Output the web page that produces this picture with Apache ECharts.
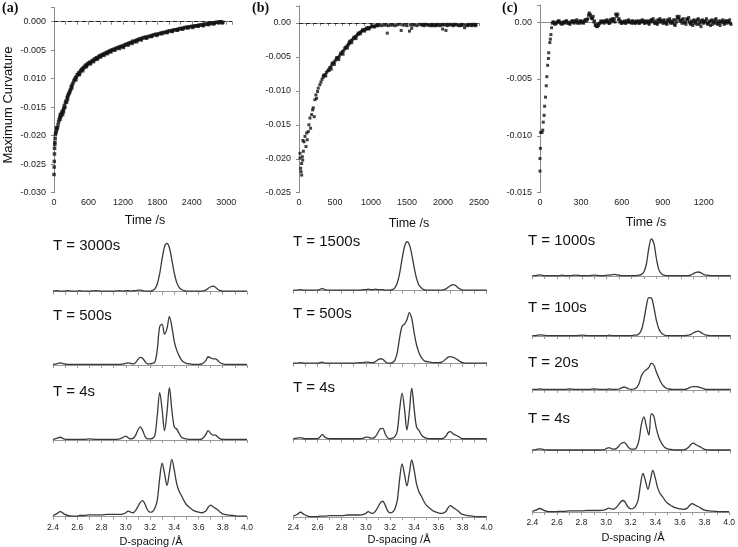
<!DOCTYPE html>
<html><head><meta charset="utf-8">
<script src="https://cdn.jsdelivr.net/npm/echarts@6/dist/echarts.min.js"></script>
<style>html,body{margin:0;padding:0;background:#fff}#c{width:738px;height:547px}</style>
</head><body><div id="c"></div><script>
// ---------------- DATA ----------------
// (a) maximum curvature vs time
const curvatureA = [[0,-0.0268],[3,-0.0255],[5,-0.0245],[8,-0.0232],[10,-0.0222],[13,-0.0215],[15,-0.0212],[20,-0.0205],[25,-0.0198],[30,-0.0195],[40,-0.0192],[50,-0.0188],[60,-0.0186],[70,-0.0181],[80,-0.0176],[90,-0.0172],[100,-0.0168],[110,-0.0163],[120,-0.0166],[130,-0.0161],[140,-0.0158],[150,-0.0163],[160,-0.0155],[170,-0.0152],[180,-0.0147],[190,-0.0150],[200,-0.0142],[210,-0.0139],[220,-0.0141],[230,-0.0133],[240,-0.0131],[250,-0.0128],[260,-0.0126],[270,-0.0124],[280,-0.0121],[290,-0.0119],[300,-0.0114],[315,-0.0111],[330,-0.0108],[345,-0.0104],[360,-0.0101],[375,-0.0098],[390,-0.0097],[405,-0.0093],[420,-0.0092],[435,-0.0089],[450,-0.0090],[465,-0.0086],[480,-0.0084],[495,-0.0083],[510,-0.0081],[525,-0.0080],[540,-0.0078],[555,-0.0076],[570,-0.0077],[585,-0.0074],[600,-0.0073],[620,-0.0071],[640,-0.0072],[660,-0.0069],[680,-0.0068],[700,-0.0066],[720,-0.0065],[740,-0.0063],[760,-0.0064],[780,-0.0061],[800,-0.0060],[820,-0.0059],[840,-0.0058],[860,-0.0057],[880,-0.0056],[900,-0.0055],[920,-0.0054],[940,-0.0053],[960,-0.0052],[980,-0.0051],[1000,-0.0050],[1025,-0.0049],[1050,-0.0048],[1075,-0.0047],[1100,-0.0046],[1125,-0.0045],[1150,-0.0044],[1175,-0.0043],[1200,-0.0043],[1225,-0.0041],[1250,-0.0040],[1275,-0.0039],[1300,-0.0038],[1325,-0.0037],[1350,-0.0036],[1375,-0.0034],[1400,-0.0035],[1425,-0.0033],[1450,-0.0032],[1475,-0.0031],[1500,-0.0030],[1530,-0.0029],[1560,-0.0028],[1590,-0.0027],[1620,-0.0027],[1650,-0.0026],[1680,-0.0025],[1710,-0.0024],[1740,-0.0023],[1770,-0.0022],[1800,-0.0022],[1830,-0.0021],[1860,-0.0020],[1890,-0.0019],[1920,-0.0019],[1950,-0.0018],[1980,-0.0017],[2010,-0.0016],[2040,-0.0016],[2070,-0.0015],[2100,-0.0014],[2130,-0.0014],[2160,-0.0013],[2190,-0.0012],[2220,-0.0012],[2250,-0.0011],[2280,-0.0010],[2310,-0.0010],[2340,-0.0009],[2370,-0.0009],[2400,-0.0008],[2430,-0.0008],[2460,-0.0007],[2490,-0.0007],[2520,-0.0006],[2550,-0.0006],[2580,-0.0005],[2610,-0.0005],[2640,-0.0004],[2670,-0.0004],[2700,-0.0003],[2730,-0.0003],[2760,-0.0002],[2790,-0.0002],[2820,-0.0001],[2850,-0.0001],[2880,0.0000],[2910,0.0000],[2940,-0.0001],
[45,-0.0186],[105,-0.0171],[165,-0.0158],[235,-0.0136],[310,-0.0116],[380,-0.0102],[440,-0.0093],[500,-0.0086],[560,-0.0079],[630,-0.0074],[690,-0.0070],[750,-0.0066],[810,-0.0062],[870,-0.0059],[930,-0.0056],[990,-0.0053],[1060,-0.0050],[1140,-0.0047],[1210,-0.0045],[1290,-0.0041],[1360,-0.0038],[1440,-0.0035],[1520,-0.0032],[1610,-0.0029],[1700,-0.0026],[1790,-0.0024],[1880,-0.0021],[1970,-0.0019],[2060,-0.0017],[2150,-0.0015],[2240,-0.0013],[2330,-0.0011],[2420,-0.0010],[2510,-0.0008],[2600,-0.0007],[2690,-0.0005],[2780,-0.0004],[2870,-0.0002],[2930,-0.0002]];
// (b)
const curvatureB = [[14,-0.0192],[14,-0.0199],[23,-0.0214],[28,-0.0219],[37,-0.0224],[37,-0.0207],[46,-0.0197],[51,-0.0202],[60,-0.0189],[55,-0.0173],[69,-0.0175],[83,-0.0167],[97,-0.0182],[106,-0.0162],[115,-0.0172],[129,-0.0160],[138,-0.0150],[152,-0.0140],[161,-0.0155],[175,-0.0135],[189,-0.0128],[198,-0.0125],[212,-0.0138],[221,-0.0113],[235,-0.0106],[244,-0.0111],[258,-0.0101],[267,-0.0096],[290,-0.0091],[305,-0.0087],
[320,-0.0083],[335,-0.0080],[350,-0.0078],[365,-0.0076],[380,-0.0073],[395,-0.0071],[410,-0.0069],[425,-0.0066],[440,-0.0065],[455,-0.0062],[470,-0.0060],[485,-0.0058],[500,-0.0056],[515,-0.0054],[530,-0.0052],[545,-0.0051],[560,-0.0049],[575,-0.0046],[590,-0.0045],[605,-0.0042],[620,-0.0041],[635,-0.0038],[650,-0.0037],[665,-0.0034],[680,-0.0033],[695,-0.0030],[710,-0.0029],[725,-0.0026],[740,-0.0025],[755,-0.0023],[770,-0.0022],[785,-0.0020],[800,-0.0019],[815,-0.0017],[830,-0.0016],[845,-0.0014],[860,-0.0013],[875,-0.0012],[890,-0.0011],[905,-0.0010],[920,-0.0009],[935,-0.0009],[950,-0.0008],[965,-0.0007],[980,-0.0007],[1000,-0.0006],[1020,-0.0005],[1040,-0.0005],[1060,-0.0004],[1080,-0.0004],[1100,-0.0004],
[340,-0.0077],[372,-0.0078],[418,-0.0070],[448,-0.0068],[462,-0.0059],[492,-0.0061],[522,-0.0051],[552,-0.0054],[582,-0.0044],[612,-0.0046],[642,-0.0036],[672,-0.0037],[690,-0.0031],[702,-0.0027],[732,-0.0029],[762,-0.0021],[792,-0.0023],[822,-0.0015],[852,-0.0016],[882,-0.0010],[912,-0.0012],[942,-0.0007],[972,-0.0009],[1010,-0.0004],[1050,-0.0006],[1090,-0.0003],
[1120,-0.0003],[1150,-0.0004],[1180,-0.0003],[1210,-0.0003],[1226,-0.0015],[1240,-0.0004],[1270,-0.0003],[1300,-0.0003],[1330,-0.0004],[1360,-0.0003],[1390,-0.0002],[1419,-0.0011],[1440,-0.0003],[1470,-0.0003],[1500,-0.0004],[1535,-0.0012],[1550,-0.0003],[1565,-0.0008],[1580,-0.0003],[1610,-0.0003],[1640,-0.0004],[1670,-0.0002],[1700,-0.0003],[1720,-0.0003],[1740,-0.0004],[1760,-0.0002],[1780,-0.0003],[1800,-0.0003],[1820,-0.0004],[1840,-0.0002],[1860,-0.0003],[1880,-0.0004],[1900,-0.0003],[1920,-0.0002],[1940,-0.0003],[1960,-0.0004],[1980,-0.0003],[1995,-0.0009],[2000,-0.0002],[2020,-0.0003],[2041,-0.0011],[2060,-0.0004],[2080,-0.0003],[2100,-0.0002],[2120,-0.0003],[2140,-0.0004],[2160,-0.0003],[2180,-0.0002],[2200,-0.0003],[2220,-0.0004],[2240,-0.0003],[2260,-0.0002],[2280,-0.0003],[2300,-0.0007],[2320,-0.0003],[2340,-0.0004],[2360,-0.0002],[2380,-0.0003],[2400,-0.0004],[2420,-0.0003],[2440,-0.0002],[2460,-0.0003],
[1730,-0.0002],[1850,-0.0004],[1910,-0.0004],[2050,-0.0002],[2150,-0.0002],[2250,-0.0004],[2350,-0.0003],[2410,-0.0002],[2450,-0.0004]];
// (c)
const curvatureC = [[0,-0.0131],[0,-0.0120],[3,-0.0111],[5,-0.0097],[15,-0.0097],[20,-0.0095],[24,-0.0088],[30,-0.0082],[34,-0.0074],[40,-0.0066],[46,-0.0056],[50,-0.0048],[56,-0.0038],[62,-0.0032],[64,-0.0027],[72,-0.0018],[76,-0.0015],[80,-0.0011],[85,-0.0005],
[90,-0.0001],[100,0],[110,-0.0002],[120,-0.0001],[130,0],[140,0.0001],[150,-0.0001],[160,-0.0002],[170,0],[180,-0.0001],[190,0.0001],[200,0],[210,-0.0001],[220,-0.0002],[230,0],[240,0.0001],[250,-0.0001],[260,0],[270,0.0002],[280,0],[290,-0.0001],[300,0.0001],[310,0],[320,-0.0001],[330,0.0002],[340,0.0001],[350,0.0003],
[360,0.0008],[370,0.0006],[380,0.0003],[390,0.0005],[400,0.0001],[410,-0.0002],[420,-0.0004],[430,-0.0003],[440,-0.0001],[450,0],
[460,0.0001],[470,-0.0001],[480,0],[490,0.0002],[500,0.0001],[510,-0.0001],[520,0],[530,0.0003],[540,0.0001],[550,0],[560,0.0006],[570,0.0007],[580,0.0003],[590,0.0001],[600,-0.0001],[610,0],[620,0.0001],[630,-0.0001],[640,0],[650,0.0002],[660,0],[670,-0.0001],[680,0.0001],[690,0],[700,-0.0001],
[710,0],[720,0.0001],[730,-0.0001],[740,0],[750,0.0002],[760,0.0001],[770,-0.0001],[780,0],[790,0.0001],[800,-0.0002],[810,0],[820,0.0002],[830,0.0003],[840,-0.0001],[850,0.0001],[860,-0.0002],[870,0],[880,0.0003],[890,0.0001],[900,-0.0001],[910,0.0002],[920,0],[930,-0.0002],[940,0.0001],[950,0.0003],[960,0],[970,-0.0001],[980,0.0002],[990,-0.0003],[1000,0],
[1010,0.0004],[1020,0.0005],[1030,0.0002],[1040,-0.0001],[1050,0.0003],[1060,0],[1070,-0.0002],[1080,0.0002],[1090,0.0004],[1100,-0.0001],[1110,0.0001],[1120,-0.0003],[1130,0.0002],[1140,0],[1150,-0.0002],[1160,0.0003],[1170,0.0001],[1180,-0.0004],[1190,0.0002],[1200,-0.0001],[1210,0],[1220,0.0003],[1230,-0.0002],[1240,0.0001],[1250,-0.0003],[1260,0.0002],[1270,0],[1280,-0.0001],[1290,0.0003],[1300,-0.0002],[1310,0.0001],[1320,-0.0003],[1330,0],[1340,0.0002],[1350,-0.0002],[1360,0.0001],[1370,-0.0001],[1380,0],[1390,0.0002],[1400,-0.0002]];
const curvatureCExtra = [[95,0],[105,-0.0001],[115,-0.0001],[125,0],[135,0.0001],[145,0],[155,-0.0001],[165,-0.0001],[175,0],[185,0],[195,0.0001],[205,-0.0001],[215,-0.0001],[225,0],[235,0.0001],[245,0],[255,0.0001],[265,0.0001],[275,-0.0001],[285,0],[295,0.0001],[305,0],[315,0],[325,0.0001],[335,0.0002],[345,0.0002],
[355,0.0006],[365,0.0007],[375,0.0004],[385,0.0003],[395,0],[405,-0.0003],[415,-0.0004],[425,-0.0002],[435,-0.0001],[445,0.0001],
[455,0],[465,0],[475,0.0001],[485,0.0001],[495,0],[505,-0.0001],[515,0.0002],[525,0.0002],[535,0.0001],[545,0.0003],[555,0.0007],[565,0.0005],[575,0.0002],[585,0],[595,-0.0001],[605,0],[615,0],[625,-0.0001],[635,0.0001],[645,0.0001],[655,0],[665,0],[675,0.0001],[685,-0.0001],[695,0],
[705,0.0001],[715,0],[725,-0.0001],[735,0.0001],[745,0.0001],[755,0],[765,-0.0001],[775,0.0001],[785,0],[795,-0.0001],[805,0.0001],[815,0.0002],[825,0.0001],[835,0],[845,-0.0001],[855,-0.0001],[865,0.0002],[875,0.0002],[885,0],[895,0.0001],[905,0.0001],[915,-0.0001],[925,-0.0001],[935,0.0002],[945,0.0001],[955,-0.0001],[965,0.0001],[975,0],[985,-0.0002],[995,0.0002],
[1005,0.0005],[1015,0.0003],[1025,0.0001],[1035,0.0001],[1045,0.0002],[1055,-0.0001],[1065,0],[1075,0.0003],[1085,0.0002],[1095,0],[1105,-0.0002],[1115,-0.0001],[1125,0.0001],[1135,-0.0001],[1145,0.0001],[1155,0.0002],[1165,-0.0002],[1175,-0.0001],[1185,0.0001],[1195,0],[1205,0.0001],[1215,0.0001],[1225,-0.0001],[1235,-0.0001],[1245,0],[1255,0.0001],[1265,-0.0002],[1275,0.0001],[1285,0.0002],[1295,0],[1305,-0.0001],[1315,-0.0001],[1325,0.0001],[1335,0],[1345,0],[1355,-0.0001],[1365,0.0001],[1375,0.0001],[1385,0],[1395,-0.0001]];

// tick labels of the time panels
const yTickValsA = [-0.030,-0.025,-0.020,-0.015,-0.010,-0.005,0];
const yTickLabelsA = ['-0.030','-0.025','-0.020','-0.015','0.010','-0.005','0.000'];
const yTickValsB = [-0.025,-0.020,-0.015,-0.010,-0.005,0];
const yTickLabelsB = ['-0.025','-0.020','-0.015','-0.010','-0.005','0.00'];
const yTickValsC = [-0.015,-0.010,-0.005,0];
const yTickLabelsC = ['-0.015','-0.010','-0.005','0.00'];
const xTickLabelsA = [0,600,1200,1800,2400,3000];
const xTickLabelsB = [0,500,1000,1500,2000,2500];
const xTickLabelsC = [0,300,600,900,1200];

// diffraction profiles (relative intensity) vs D-spacing
const dSpacing = [2.40,2.43,2.46,2.49,2.52,2.56,2.60,2.62,2.64,2.66, 2.70,2.75,2.80,2.85,2.90,2.95,2.98,3.00,3.02,3.04, 3.06,3.08,3.10,3.12,3.14,3.16,3.18,3.20,3.22,3.24, 3.26,3.28,3.30,3.32,3.34,3.36,3.38,3.40,3.42,3.44, 3.46,3.48,3.50,3.53,3.56,3.60,3.63,3.66,3.68,3.70, 3.72,3.74,3.76,3.78,3.80,3.84,3.88,3.92,3.96,4.00];
const dTickLabels = ['2.4','2.6','2.8','3.0','3.2','3.4','3.6','3.8','4.0'];
const specRef = [0.02,0.05,0.09,0.05,0.02,0.01,0.01,0.02,0.02,0.02, 0.03,0.03,0.03,0.04,0.04,0.04,0.05,0.07,0.10,0.08, 0.07,0.11,0.18,0.26,0.29,0.22,0.12,0.08,0.09,0.15, 0.30,0.70,0.97,0.78,0.57,0.80,1.04,0.85,0.60,0.46, 0.38,0.29,0.22,0.16,0.11,0.08,0.07,0.10,0.17,0.21, 0.18,0.15,0.12,0.08,0.05,0.03,0.02,0.01,0.01,0.01];
const specA3000 = [0.01,0.02,0.01,0.01,0.02,0.01,0.01,0.02,0.01,0.01, 0.01,0.02,0.01,0.01,0.01,0.02,0.01,0.02,0.02,0.01, 0.02,0.02,0.03,0.03,0.02,0.01,0.01,0.01,0.02,0.05, 0.14,0.33,0.60,0.82,0.88,0.80,0.58,0.34,0.17,0.08, 0.04,0.02,0.01,0.01,0.01,0.01,0.01,0.03,0.06,0.09, 0.10,0.08,0.04,0.02,0.01,0.01,0.01,0.01,0.01,0.01];
const specA500 = [0.01,0.02,0.04,0.02,0.01,0.01,0.01,0.01,0.01,0.01, 0.01,0.01,0.01,0.01,0.01,0.01,0.02,0.03,0.04,0.03, 0.02,0.04,0.10,0.14,0.12,0.06,0.02,0.02,0.03,0.05, 0.28,0.70,0.74,0.56,0.66,0.88,0.70,0.43,0.27,0.17, 0.09,0.05,0.03,0.02,0.01,0.01,0.02,0.08,0.15,0.13, 0.11,0.11,0.08,0.04,0.02,0.01,0.01,0.01,0.01,0.01];
const specA4 = [0.01,0.03,0.05,0.02,0.01,0.01,0.01,0.01,0.01,0.01, 0.02,0.01,0.01,0.01,0.01,0.02,0.05,0.07,0.04,0.02, 0.03,0.08,0.18,0.24,0.17,0.06,0.02,0.02,0.03,0.08, 0.45,0.86,0.55,0.17,0.50,0.95,0.55,0.24,0.20,0.12, 0.05,0.03,0.02,0.01,0.01,0.01,0.02,0.10,0.17,0.12, 0.09,0.09,0.05,0.02,0.01,0.01,0.01,0.01,0.01,0.01];
const specB1500 = [0.01,0.01,0.02,0.01,0.01,0.01,0.01,0.02,0.04,0.02, 0.01,0.01,0.01,0.01,0.01,0.01,0.02,0.02,0.03,0.02, 0.02,0.03,0.02,0.02,0.02,0.01,0.01,0.01,0.02,0.05, 0.14,0.32,0.58,0.80,0.89,0.84,0.66,0.42,0.22,0.10, 0.05,0.02,0.01,0.01,0.01,0.01,0.01,0.03,0.06,0.09, 0.11,0.10,0.06,0.03,0.01,0.01,0.01,0.01,0.01,0.01];
const specB500 = [0.01,0.01,0.02,0.01,0.01,0.01,0.01,0.02,0.03,0.01, 0.01,0.01,0.01,0.01,0.01,0.02,0.02,0.03,0.03,0.02, 0.02,0.04,0.07,0.09,0.08,0.04,0.01,0.01,0.02,0.06, 0.20,0.48,0.68,0.72,0.80,0.93,0.82,0.56,0.34,0.20, 0.11,0.06,0.04,0.03,0.02,0.02,0.03,0.08,0.12,0.13, 0.12,0.10,0.07,0.04,0.02,0.01,0.01,0.01,0.01,0.01];
const specB4 = [0.01,0.02,0.03,0.01,0.01,0.01,0.01,0.04,0.09,0.04, 0.01,0.01,0.01,0.01,0.01,0.01,0.02,0.04,0.04,0.02, 0.02,0.05,0.12,0.19,0.20,0.10,0.03,0.01,0.02,0.05, 0.15,0.55,0.84,0.55,0.17,0.50,0.93,0.55,0.22,0.16, 0.08,0.04,0.02,0.01,0.01,0.01,0.01,0.05,0.12,0.14, 0.10,0.08,0.06,0.03,0.01,0.01,0.01,0.01,0.01,0.01];
const specC1000 = [0.01,0.01,0.03,0.01,0.01,0.01,0.01,0.01,0.02,0.01, 0.01,0.02,0.01,0.01,0.02,0.01,0.01,0.02,0.02,0.03, 0.04,0.03,0.02,0.01,0.01,0.01,0.01,0.01,0.01,0.01, 0.02,0.04,0.10,0.30,0.70,0.93,0.82,0.45,0.16,0.06, 0.02,0.01,0.01,0.01,0.01,0.01,0.01,0.01,0.03,0.06, 0.09,0.10,0.08,0.04,0.02,0.01,0.01,0.01,0.01,0.01];
const specC100 = [0.01,0.01,0.03,0.02,0.01,0.01,0.01,0.01,0.01,0.01, 0.01,0.01,0.02,0.01,0.01,0.01,0.01,0.01,0.02,0.01, 0.01,0.01,0.01,0.01,0.01,0.01,0.01,0.01,0.02,0.02, 0.05,0.15,0.40,0.75,0.96,0.95,0.72,0.40,0.18,0.08, 0.03,0.01,0.01,0.01,0.01,0.01,0.01,0.02,0.04,0.08, 0.11,0.12,0.09,0.05,0.02,0.01,0.01,0.01,0.01,0.01];
const specC20 = [0.01,0.01,0.02,0.01,0.01,0.01,0.01,0.01,0.01,0.01, 0.02,0.01,0.01,0.01,0.02,0.01,0.01,0.01,0.02,0.01, 0.01,0.01,0.02,0.05,0.07,0.05,0.02,0.01,0.02,0.05, 0.15,0.35,0.45,0.50,0.56,0.66,0.62,0.45,0.30,0.17, 0.09,0.04,0.02,0.01,0.01,0.01,0.01,0.04,0.07,0.08, 0.08,0.07,0.05,0.03,0.01,0.01,0.01,0.01,0.01,0.01];
const specC4 = [0.01,0.02,0.04,0.02,0.01,0.01,0.01,0.01,0.01,0.01, 0.01,0.01,0.01,0.01,0.01,0.01,0.02,0.05,0.07,0.04, 0.03,0.05,0.12,0.18,0.20,0.14,0.06,0.03,0.03,0.07, 0.25,0.65,0.84,0.60,0.38,0.92,0.85,0.55,0.33,0.19, 0.10,0.05,0.03,0.02,0.01,0.01,0.02,0.08,0.15,0.18, 0.14,0.11,0.08,0.04,0.02,0.01,0.01,0.01,0.01,0.01];
const timeLabelsA = ['T = 3000s','T = 500s','T = 4s'];
const timeLabelsB = ['T = 1500s','T = 500s','T = 4s'];
const timeLabelsC = ['T = 1000s','T = 100s','T = 20s','T = 4s'];

// ---------------- BUILD ----------------
const FONT = '"Liberation Sans", Arial, sans-serif';
const AX = '#8a8a8a';
const grids = [], xAxes = [], yAxes = [], series = [], graphics = [];

function fmtFrom(vals, labels) {
  return function (v) {
    for (let i = 0; i < vals.length; i++) if (Math.abs(v - vals[i]) < 1e-7) return labels[i];
    return '';
  };
}
function addTimePanel(c) {
  const gi = grids.length;
  grids.push({left: c.left, top: c.top, width: c.width, height: c.height});
  xAxes.push({gridIndex: gi, type: 'value', min: 0, max: c.xmax, interval: c.xint,
    axisLine: {lineStyle: {color: AX}}, axisTick: {length: 3, lineStyle: {color: AX}},
    splitLine: {show: false},
    axisLabel: {color: '#222', fontSize: 9, fontFamily: FONT, margin: 5,
      formatter: v => c.xLabels.some(l => Math.abs(l - v) < 1e-6) ? String(Math.round(v)) : ''}});
  yAxes.push({gridIndex: gi, type: 'value', min: c.ymin, max: c.ymax, interval: 0.005,
    axisLine: {show: true, lineStyle: {color: AX}}, axisTick: {show: true, length: 3, lineStyle: {color: AX}},
    splitLine: {show: false},
    axisLabel: {color: '#222', fontSize: 9, fontFamily: FONT, margin: 8, formatter: fmtFrom(c.yVals, c.yLabels)}});
  const s = {type: 'scatter', xAxisIndex: gi, yAxisIndex: gi, data: c.data, symbol: 'rect',
    symbolSize: c.size, itemStyle: {color: '#111'}, silent: true};
  if (c.dash) s.markLine = {silent: true, symbol: 'none', label: {show: false},
    lineStyle: {color: '#222', type: [4, 3], width: 1}, data: [{yAxis: 0}]};
  series.push(s);
}
function addSpectrum(c) {
  const gi = grids.length;
  const h = c.unit * (c.ymax - c.ymin);
  grids.push({left: c.left, width: c.width, top: c.bottomY - h, height: h});
  xAxes.push({gridIndex: gi, type: 'value', min: 2.4, max: 4.0, interval: 0.1,
    axisLine: {lineStyle: {color: '#999'}}, axisTick: {length: 3, lineStyle: {color: '#999'}},
    splitLine: {show: false},
    axisLabel: {show: !!c.labels, color: '#222', fontSize: 8.5, fontFamily: FONT, margin: 5,
      formatter: v => { const k = Math.round(v * 10); return k % 2 === 0 ? dTickLabels[(k - 24) / 2] : ''; }}});
  yAxes.push({gridIndex: gi, type: 'value', min: c.ymin, max: c.ymax, show: false, splitLine: {show: false}});
  series.push({type: 'line', xAxisIndex: gi, yAxisIndex: gi, clip: false,
    data: dSpacing.map((x, i) => [x, c.values[i]]), showSymbol: false, smooth: 0.35,
    lineStyle: {color: '#3a3a3a', width: 1.3}, silent: true});
}
function text(str, x, y, opt) {
  graphics.push(Object.assign({type: 'text', x: x, y: y, silent: true,
    style: Object.assign({text: str, fill: '#111', font: '12px ' + FONT,
      textAlign: 'left', align: 'left', textVerticalAlign: 'middle', verticalAlign: 'middle'}, opt && opt.style || {})},
    opt && opt.rotation ? {rotation: opt.rotation} : {}));
}

// time panels
addTimePanel({left: 54, top: 7.5, width: 178, height: 185.2, xmax: 3100, xint: 200, xLabels: xTickLabelsA,
  ymin: -0.030, ymax: 0.0025, yVals: yTickValsA, yLabels: yTickLabelsA, data: curvatureA, size: 3.5, dash: true});
addTimePanel({left: 299, top: 6, width: 180, height: 186.7, xmax: 2500, xint: 100, xLabels: xTickLabelsB,
  ymin: -0.025, ymax: 0.0025, yVals: yTickValsB, yLabels: yTickLabelsB, data: curvatureB, size: 3, dash: true});
addTimePanel({left: 540, top: 5, width: 191, height: 187.7, xmax: 1400, xint: 100, xLabels: xTickLabelsC,
  ymin: -0.015, ymax: 0.0015, yVals: yTickValsC, yLabels: yTickLabelsC, data: curvatureC.concat(curvatureCExtra), size: 3, dash: false});

// spectra
const colA = {left: 53, width: 194, unit: 55};
const colB = {left: 293.3, width: 193.4, unit: 55};
const colC = {left: 532.3, width: 198.4, unit: 40};
[[specA3000, 299, 7.3], [specA500, 372.7, 7.7], [specA4, 446, 6]].forEach(s =>
  addSpectrum(Object.assign({}, colA, {values: s[0], bottomY: s[1], ymin: -s[2] / 55, ymax: 1.0})));
addSpectrum(Object.assign({}, colA, {values: specRef, bottomY: 517.7, ymin: -0.02, ymax: 1.1, labels: true}));
[[specB1500, 296.7, 6], [specB500, 371.7, 8], [specB4, 445.7, 6.4]].forEach(s =>
  addSpectrum(Object.assign({}, colB, {values: s[0], bottomY: s[1], ymin: -s[2] / 55, ymax: 1.0})));
addSpectrum(Object.assign({}, colB, {values: specRef, bottomY: 518.3, ymin: -0.02, ymax: 1.1, labels: true}));
[[specC1000, 285, 9], [specC100, 341.7, 5.7], [specC20, 398.3, 8.5], [specC4, 456.7, 6.3]].forEach(s =>
  addSpectrum(Object.assign({}, colC, {values: s[0], bottomY: s[1], ymin: -s[2] / 40, ymax: 1.0})));
addSpectrum(Object.assign({}, colC, {values: specRef, bottomY: 513.3, ymin: -0.03, ymax: 1.1, labels: true}));

// texts
const serifBold = 'bold 14px "Liberation Serif", "DejaVu Serif", serif';
text('(a)', 2, 8, {style: {font: serifBold}});
text('(b)', 252, 8, {style: {font: serifBold}});
text('(c)', 502, 8, {style: {font: serifBold}});
text('Maximum Curvature', 8, 105, {rotation: Math.PI / 2, style: {font: '13px ' + FONT, textAlign: 'center', align: 'center'}});
const ctr = {font: '12.5px ' + FONT, textAlign: 'center', align: 'center'};
text('Time /s', 145, 220.5, {style: ctr});
text('Time /s', 409, 223.5, {style: ctr});
text('Time /s', 646, 223, {style: ctr});
const tFont = {font: '15px ' + FONT};
[245.7, 315.7, 391.7].forEach((y, i) => text(timeLabelsA[i], 53, y, {style: tFont}));
[241.7, 314.3, 388.3].forEach((y, i) => text(timeLabelsB[i], 293, y, {style: tFont}));
[241, 307.7, 363.3, 419].forEach((y, i) => text(timeLabelsC[i], 528, y, {style: tFont}));
const dFont = {font: '11px ' + FONT, textAlign: 'center', align: 'center'};
text('D-spacing /Å', 151, 541.5, {style: dFont});
text('D-spacing /Å', 399, 540, {style: dFont});
text('D-spacing /Å', 633, 538, {style: dFont});

const chart = echarts.init(document.getElementById('c'), null, {renderer: 'canvas'});
chart.setOption({animation: false, backgroundColor: '#fff', grid: grids, xAxis: xAxes, yAxis: yAxes,
  series: series, graphic: graphics});
</script></body></html>
